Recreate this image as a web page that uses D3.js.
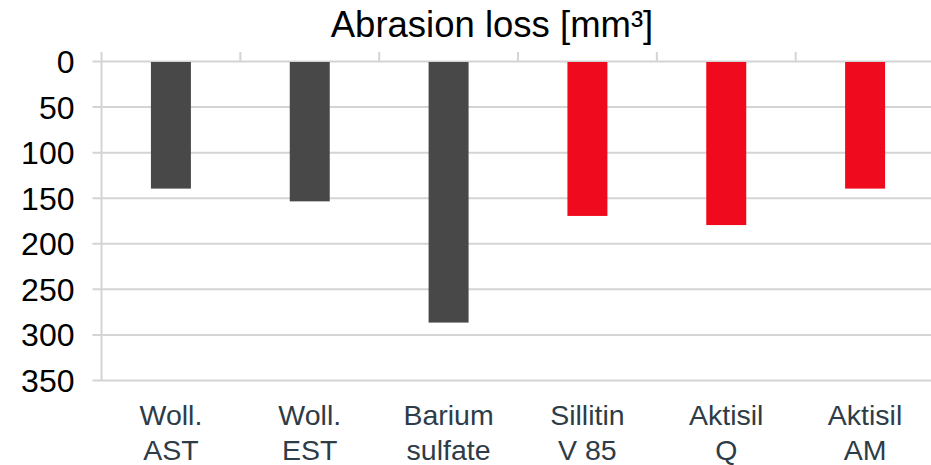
<!DOCTYPE html>
<html>
<head>
<meta charset="utf-8">
<script src="https://cdn.jsdelivr.net/npm/d3@7"></script>
<style>
  html, body { margin: 0; padding: 0; background: #fff; }
  svg { display: block; font-family: "Liberation Sans", Arial, sans-serif; }
</style>
</head>
<body>
<svg id="chart" width="931" height="465"></svg>
<script>
// Fillers and their abrasion loss (mm³)
const categories = [["Woll.", "AST"], ["Woll.", "EST"], ["Barium", "sulfate"], ["Sillitin", "V 85"], ["Aktisil", "Q"], ["Aktisil", "AM"]];
const values = [140, 154, 287, 170, 180, 140];
const groups = ["grey", "grey", "grey", "red", "red", "red"];
const yTicks = [0, 50, 100, 150, 200, 250, 300, 350];
const title = "Abrasion loss [mm³]";

const colors = { grey: "#484848", red: "#f00a1e" };

const svg = d3.select("#chart");
const plot = { left: 101.5, right: 934.5, top: 61, bottom: 380 };

const x = d3.scaleBand()
  .domain(d3.range(categories.length))
  .range([plot.left, plot.right])
  .paddingInner(0.712)
  .paddingOuter(0.356);

// Inverted value axis: 0 at the top, bars hang downward
const y = d3.scaleLinear().domain([0, 350]).range([plot.top, plot.bottom]);

const grid = "#d4d4d4";

// Horizontal gridlines with short ticks to the left of the axis
const yAxis = d3.axisLeft(y)
  .tickValues(yTicks)
  .tickSizeOuter(0)
  .tickPadding(0);

const gy = svg.append("g")
  .attr("transform", `translate(${plot.left - 9},0)`)
  .call(yAxis);
gy.select(".domain").remove();
gy.selectAll(".tick line")
  .attr("x1", 0)
  .attr("x2", plot.right - plot.left + 9)
  .attr("stroke", grid)
  .attr("stroke-width", 2);
gy.selectAll(".tick text")
  .attr("x", -18)
  .attr("dy", "0.36em")
  .attr("fill", "#000")
  .style("font-size", "32px")
  .attr("text-anchor", "end");

// Vertical axis line
svg.append("line")
  .attr("x1", plot.left).attr("x2", plot.left)
  .attr("y1", plot.top).attr("y2", plot.bottom)
  .attr("stroke", grid).attr("stroke-width", 2);

// Category boundary ticks above the zero line
const step = x.step();
const boundaries = d3.range(categories.length + 1).map(i => plot.left + i * step);
svg.append("g").selectAll("line")
  .data(boundaries)
  .join("line")
  .attr("x1", d => d).attr("x2", d => d)
  .attr("y1", plot.top - 9).attr("y2", plot.top)
  .attr("stroke", grid).attr("stroke-width", 2);

// Bars
svg.append("g").selectAll("rect")
  .data(values)
  .join("rect")
  .attr("x", (d, i) => x(i))
  .attr("y", y(0) + 1)
  .attr("width", x.bandwidth())
  .attr("height", d => y(d) - y(0) - 1)
  .attr("fill", (d, i) => colors[groups[i]]);

// Category labels (two lines each)
const labels = svg.append("g").selectAll("text")
  .data(categories)
  .join("text")
  .attr("text-anchor", "middle")
  .attr("fill", "#2e3c48")
  .style("font-size", "28.5px");
labels.selectAll("tspan")
  .data((d, i) => d.map(line => ({ line, i })))
  .join("tspan")
  .attr("x", d => x(d.i) + x.bandwidth() / 2)
  .attr("y", (d, j) => 425 + j * 35)
  .text(d => d.line);

// Title
svg.append("text")
  .attr("x", 492)
  .attr("y", 37)
  .attr("text-anchor", "middle")
  .attr("fill", "#000")
  .style("font-size", "36.5px")
  .text(title);
</script>
</body>
</html>
